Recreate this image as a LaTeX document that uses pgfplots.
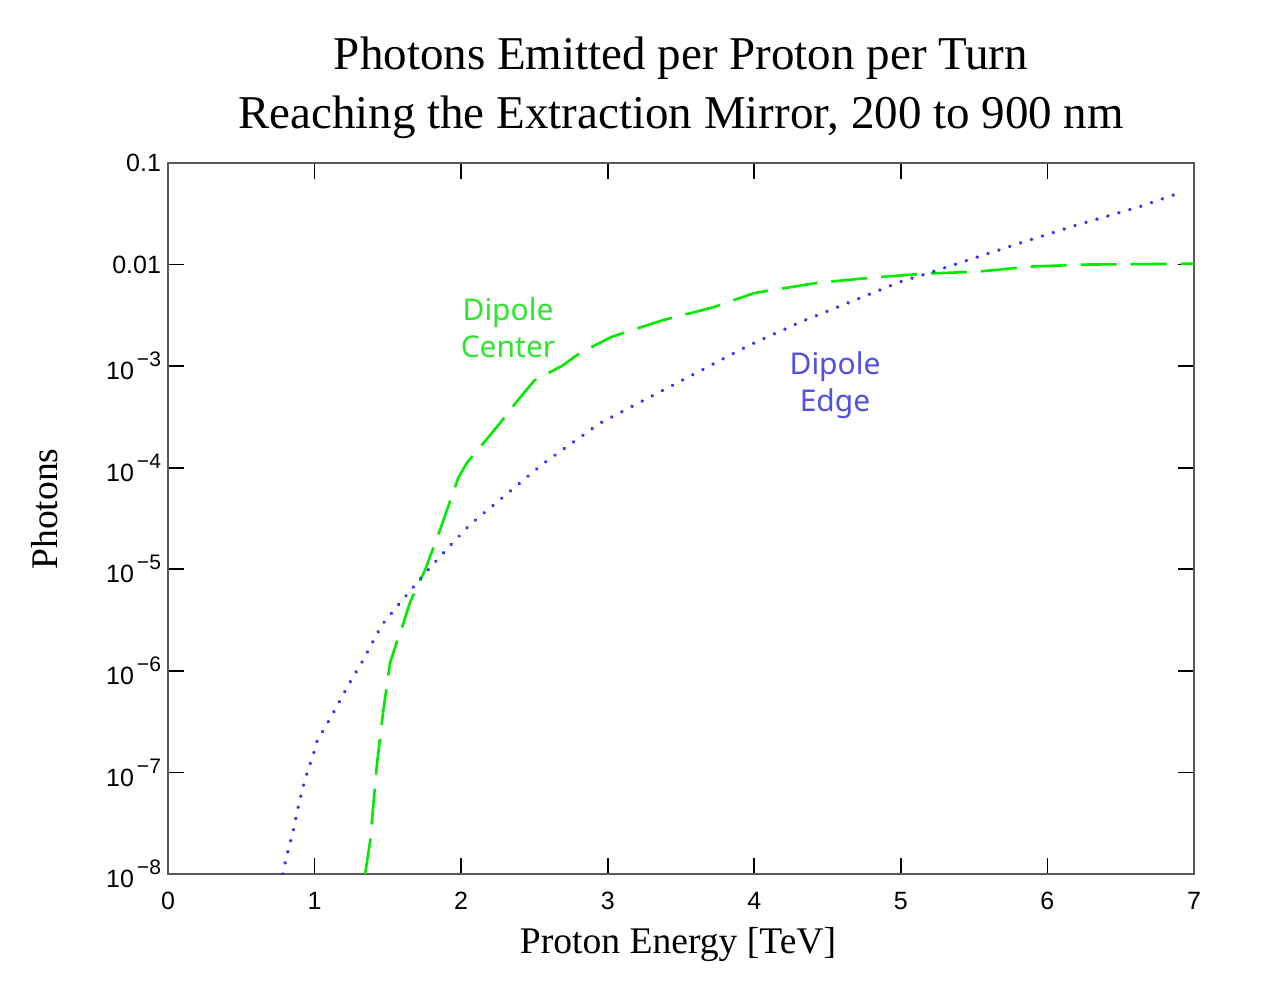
\documentclass[border=0pt]{standalone}
\usepackage{pgfplots}
\pgfplotsset{compat=1.18}
\usepackage{fontspec}
\setmainfont{Liberation Serif}
\newfontfamily\ticksf{Liberation Sans}
\newfontfamily\lblsf{Noto Sans}
\definecolor{cgreen}{RGB}{0,235,0}
\definecolor{cgreentxt}{RGB}{45,230,45}
\definecolor{cblue}{RGB}{50,50,250}
\definecolor{cbluetxt}{RGB}{80,80,225}
\newcommand\ee[1]{10\hspace{1.5pt}\raisebox{6.5pt}{\fontsize{10.5}{12}\selectfont −#1}}
\begin{document}
\begin{tikzpicture}
\path[use as bounding box] (0pt,0pt) rectangle (631pt,-493pt);
\node[font=\fontsize{23.5}{29.5}\selectfont, align=center] at (340.5pt,-43.75pt)
  {Photons Emitted per Proton per Turn\\Reaching the Extraction Mirror, 200 to 900 nm};
\node[font=\fontsize{18.8}{22}\selectfont, rotate=90] at (22.5pt,-254.5pt) {Photons};
\node[font=\fontsize{18.8}{22}\selectfont] at (339pt,-472pt) {Proton Energy [TeV]};
\begin{axis}[
  at={(84pt,-437pt)}, anchor=south west,
  scale only axis, width=513pt, height=355.5pt,
  xmin=0, xmax=7, ymin=1e-8, ymax=0.1,
  ymode=log,
  xtick={0,1,2,3,4,5,6,7},
  xticklabels={0,1,2,3,4,5,6,7},
  ytick={1e-8,1e-7,1e-6,1e-5,1e-4,1e-3,1e-2,1e-1},
  yticklabels={\ee{8},\ee{7},\ee{6},\ee{5},\ee{4},\ee{3},0.01,0.1},
  yminorticks=false,
  tick align=inside,
  major tick length=8pt,
  axis line style={draw=black!65, line width=1pt},
  major tick style={black, line width=0.9pt},
  ticklabel style={font=\ticksf\fontsize{12.5}{14}\selectfont},
  xticklabel style={yshift=-5.5pt},
  clip=true,
]
\addplot[cgreen, line width=1.3pt, dash pattern=on 18pt off 7pt] coordinates {
(1.345,1.0e-8) (1.38,2.14e-8) (1.424,1.15e-7) (1.469,4.07e-7) (1.515,1.20e-6)
(1.56,1.90e-6) (1.60,2.75e-6) (1.65,4.68e-6) (1.70,6.76e-6) (1.753,9.77e-6)
(1.856,2.45e-5) (1.98,7.94e-5)
(2.04,1.12e-4) (2.197,2.09e-4) (2.265,2.75e-4) (2.39,4.68e-4) (2.50,7.24e-4)
(2.695,1.02e-3) (2.81,1.35e-3) (3.03,1.95e-3) (3.37,2.82e-3) (3.72,3.80e-3)
(4.0,5.25e-3) (4.43,6.61e-3) (4.79,7.41e-3) (5.15,8.13e-3) (5.52,8.51e-3)
(5.88,9.55e-3) (6.24,1.0e-2) (7.0,1.02e-2)
};
\addplot[cblue, line width=1.9pt, line cap=round, dash pattern=on 0.01pt off 5.7pt] coordinates {
(0.782,1.0e-8) (0.81,1.51e-8) (0.855,2.69e-8) (0.89,4.68e-8) (0.916,6.76e-8)
(0.946,9.55e-8) (0.992,1.51e-7) (1.019,2.09e-7) (1.071,2.75e-7) (1.155,4.57e-7)
(1.242,7.76e-7) (1.333,1.29e-6) (1.458,2.82e-6) (1.583,4.68e-6) (1.753,9.12e-6)
(1.878,1.45e-5) (2.06,2.75e-5) (2.277,5.01e-5) (2.492,9.12e-5) (2.56,1.10e-4)
(2.947,2.75e-4) (3.254,4.68e-4) (3.573,8.13e-4) (3.97,1.62e-3) (4.323,2.75e-3)
(4.653,4.27e-3) (4.994,6.76e-3) (5.176,8.13e-3) (5.767,1.55e-2) (6.20,2.45e-2)
(6.63,3.72e-2) (6.93,5.25e-2)
};
\node[text=cgreentxt, font=\lblsf\fontsize{15}{18.5}\selectfont, align=center] at (axis cs:2.32,2.38e-3) {Dipole\\Center};
\node[text=cbluetxt, font=\lblsf\fontsize{15}{18.5}\selectfont, align=center] at (axis cs:4.551,6.5e-4) {Dipole\\Edge};
\end{axis}
\end{tikzpicture}
\end{document}
